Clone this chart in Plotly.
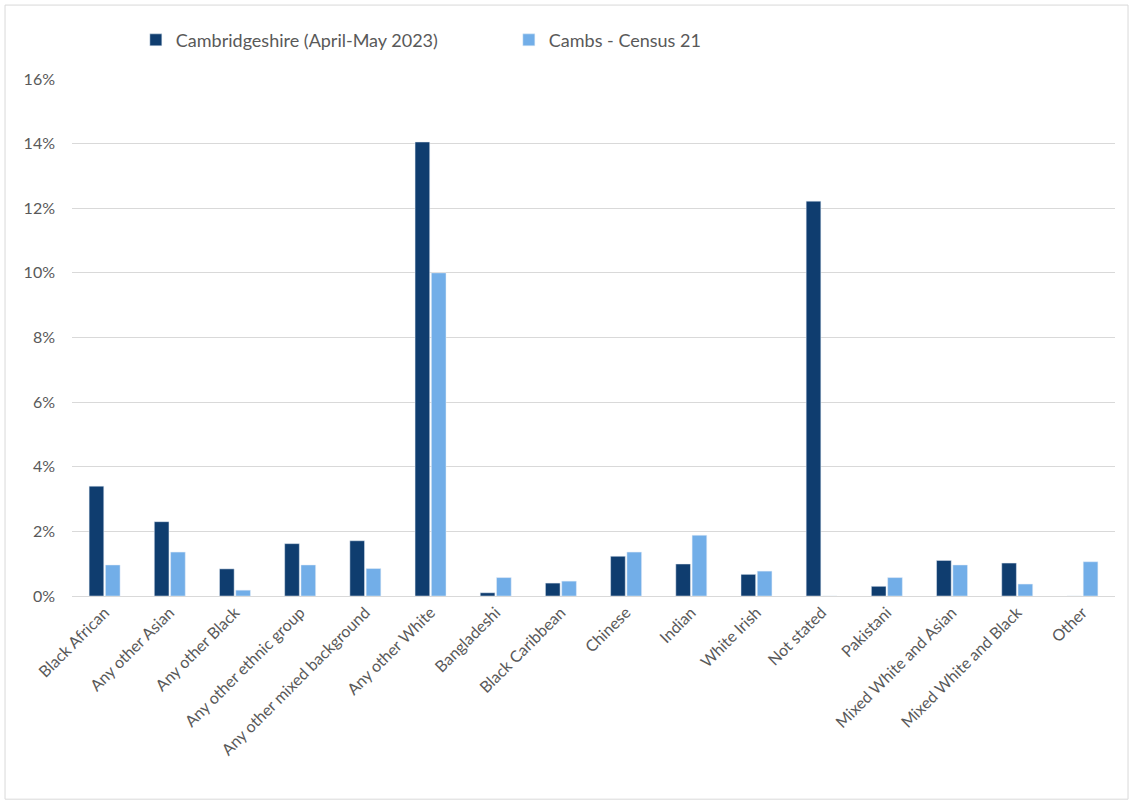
import plotly.graph_objects as go

categories = ["Black African", "Any other Asian", "Any other Black", "Any other ethnic group",
              "Any other mixed background", "Any other White", "Bangladeshi", "Black Caribbean",
              "Chinese", "Indian", "White Irish", "Not stated", "Pakistani",
              "Mixed White and Asian", "Mixed White and Black", "Other"]
cambs_2023 = [0.034, 0.023, 0.0084, 0.0162, 0.0171, 0.1405, 0.001, 0.004,
              0.0123, 0.0099, 0.0067, 0.1222, 0.003, 0.011, 0.0102, 0.0]
census_21 = [0.0096, 0.0136, 0.0018, 0.0096, 0.0085, 0.100, 0.0057, 0.0046,
             0.0136, 0.0188, 0.0077, 0.0, 0.0057, 0.0096, 0.0037, 0.0106]

series_names = ["Cambridgeshire (April-May 2023)", "Cambs - Census 21"]
colors = ["#0f3d6f", "#72aee8"]

fig = go.Figure()
fig.add_trace(go.Bar(x=categories, y=cambs_2023, name=series_names[0], marker_color=colors[0]))
fig.add_trace(go.Bar(x=categories, y=census_21, name=series_names[1], marker_color=colors[1]))

font_family = "Lato, 'Open Sans', sans-serif"
fig.update_layout(
    width=1132, height=802,
    margin=dict(l=72, r=17, t=79, b=206, autoexpand=False),
    paper_bgcolor="white", plot_bgcolor="white",
    barmode="group", bargap=0.5, bargroupgap=0.1,
    font=dict(family=font_family, size=16, color="#595959"),
    showlegend=True,
    legend=dict(orientation="h", xref="container", yref="container",
                x=0.12, y=0.973, xanchor="left", yanchor="top",
                font=dict(size=18, color="#595959"), entrywidth=328,
                traceorder="normal"),
    xaxis=dict(tickangle=-45, showgrid=False, showline=True, linecolor="#d9d9d9",
               linewidth=1, ticks="", automargin=False,
               tickfont=dict(size=16, color="#595959")),
    yaxis=dict(range=[0, 0.16], dtick=0.02, tickformat=".0%", showgrid=True,
               gridcolor="#d9d9d9", gridwidth=1, zeroline=False, showline=False,
               ticks="", ticklabelstandoff=16, automargin=False,
               tickfont=dict(size=16, color="#595959")),
    shapes=[dict(type="rect", xref="paper", yref="paper",
                 x0=-0.0642, x1=1.0125, y0=-0.393, y1=1.143,
                 line=dict(color="#d9d9d9", width=1), fillcolor="rgba(0,0,0,0)")],
)

fig.write_html("out.html")
